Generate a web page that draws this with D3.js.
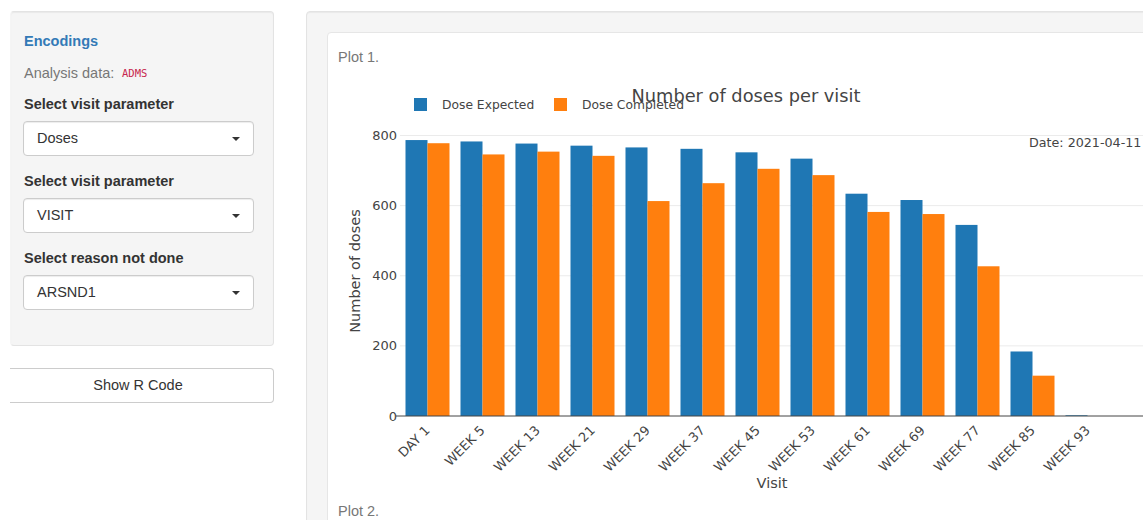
<!DOCTYPE html>
<html>
<head>
<meta charset="utf-8">
<script src="https://cdn.jsdelivr.net/npm/d3@7"></script>
<style>
  body { margin: 0; width: 1143px; height: 520px; overflow: hidden; background: #fff;
         font-family: "Liberation Sans", Arial, sans-serif; font-size: 14.5px; color: #333; position: relative; }
  .abs { position: absolute; }
  .well { background: #f5f5f5; border: 1px solid #e3e3e3; border-radius: 4px;
          box-shadow: inset 0 1px 1px rgba(0,0,0,0.05); box-sizing: border-box; }
  .lbl { font-weight: bold; color: #333; }
  .sel { background: #fff; border: 1px solid #ccc; border-radius: 4px; box-sizing: border-box;
         box-shadow: inset 0 1px 1px rgba(0,0,0,0.075); }
  .sel span { position: absolute; left: 13px; top: 8px; }
  .caret { position: absolute; right: 13px; top: 15px; width: 0; height: 0;
           border-left: 4.5px solid transparent; border-right: 4.5px solid transparent; border-top: 4.5px solid #333; }
  #chart { position: absolute; left: 0; top: 0; }
</style>
</head>
<body>
<!-- sidebar -->
<div class="abs well" style="left:10px; top:11px; width:264px; height:335px; border-left-color:#f5f5f5;"></div>
<div class="abs" style="left:24px; top:33px; color:#337ab7; font-weight:bold;">Encodings</div>
<div class="abs" style="left:24px; top:65px; color:#777;">Analysis data:</div>
<div class="abs" style="left:122px; top:67px; color:#c7254e; font-family:'DejaVu Sans Mono',monospace; font-size:10.5px;">ADMS</div>
<div class="abs lbl" style="left:24px; top:96px;">Select visit parameter</div>
<div class="abs sel" style="left:23px; top:121px; width:231px; height:35px;"><span>Doses</span><div class="caret"></div></div>
<div class="abs lbl" style="left:24px; top:173px;">Select visit parameter</div>
<div class="abs sel" style="left:23px; top:198px; width:231px; height:35px;"><span>VISIT</span><div class="caret"></div></div>
<div class="abs lbl" style="left:24px; top:250px;">Select reason not done</div>
<div class="abs sel" style="left:23px; top:275px; width:231px; height:35px;"><span>ARSND1</span><div class="caret"></div></div>
<div class="abs" style="left:2px; top:368px; width:272px; height:35px; border:1px solid #ccc; border-left-color:#fff; border-radius:4px; box-sizing:border-box; background:#fff; text-align:center; line-height:33px;">Show R Code</div>
<div class="abs" style="left:0; top:360px; width:10px; height:50px; background:#fff;"></div>

<!-- main panel -->
<div class="abs well" style="left:306px; top:11px; width:900px; height:560px;"></div>
<div class="abs" style="left:327px; top:32px; width:900px; height:560px; background:#fff; border:1px solid #e6e6e6; border-radius:4px;"></div>
<div class="abs" style="left:338px; top:49px; color:#777;">Plot 1.</div>
<div class="abs" style="left:338px; top:503px; color:#777;">Plot 2.</div>

<svg id="chart" width="1143" height="520"></svg>

<script>
// chart data
var visits = ["DAY 1", "WEEK 5", "WEEK 13", "WEEK 21", "WEEK 29", "WEEK 37", "WEEK 45",
              "WEEK 53", "WEEK 61", "WEEK 69", "WEEK 77", "WEEK 85", "WEEK 93"];
var doseExpected  = [787, 783, 777, 771, 766, 762, 752, 734, 634, 616, 545, 184, 2];
var doseCompleted = [778, 746, 754, 742, 613, 664, 705, 687, 582, 576, 427, 115, 0];
var seriesNames = ["Dose Expected", "Dose Completed"];
var seriesColors = ["#1f77b4", "#ff7f0e"];
var yTicks = [0, 200, 400, 600, 800];

var plotLeft = 400, plotRight = 1160, plotTop = 135.5, plotBottom = 416;
var chartFont = "'DejaVu Sans', Verdana, sans-serif";

var svg = d3.select("#chart");

// scales
var x = d3.scaleBand()
    .domain(visits)
    .range([plotLeft, 1115])
    .paddingInner(0.2)
    .paddingOuter(0.1);

var xInner = d3.scaleBand()
    .domain(seriesNames)
    .range([0, x.bandwidth()]);

var y = d3.scaleLinear()
    .domain([0, 800])
    .range([plotBottom, plotTop]);

var color = d3.scaleOrdinal()
    .domain(seriesNames)
    .range(seriesColors);

// grid lines
svg.append("g")
    .selectAll("line")
    .data(yTicks.filter(function (d) { return d > 0; }))
    .enter().append("line")
    .attr("x1", plotLeft).attr("x2", plotRight)
    .attr("y1", function (d) { return y(d); })
    .attr("y2", function (d) { return y(d); })
    .attr("stroke", "#ebebeb");

// y tick labels
svg.append("g")
    .selectAll("text")
    .data(yTicks)
    .enter().append("text")
    .attr("x", plotLeft - 3)
    .attr("y", function (d) { return y(d); })
    .attr("dy", "0.35em")
    .attr("text-anchor", "end")
    .style("font-family", chartFont).style("font-size", "13px")
    .attr("fill", "#444")
    .text(function (d) { return d; });

// bars, one group per visit
var rows = visits.map(function (v, i) {
    return { visit: v, values: [doseExpected[i], doseCompleted[i]] };
});

svg.append("g")
    .selectAll("g")
    .data(rows)
    .enter().append("g")
    .attr("transform", function (d) { return "translate(" + x(d.visit) + ",0)"; })
    .selectAll("rect")
    .data(function (d) {
        return seriesNames.map(function (s, j) { return { key: s, value: d.values[j] }; });
    })
    .enter().append("rect")
    .attr("x", function (d) { return xInner(d.key); })
    .attr("width", xInner.bandwidth())
    .attr("y", function (d) { return y(d.value); })
    .attr("height", function (d) { return y(0) - y(d.value); })
    .attr("fill", function (d) { return color(d.key); });

// zero line
svg.append("line")
    .attr("x1", plotLeft - 4).attr("x2", plotRight)
    .attr("y1", y(0)).attr("y2", y(0))
    .attr("stroke", "#444");

// x tick labels, rotated
svg.append("g")
    .selectAll("text")
    .data(visits)
    .enter().append("text")
    .attr("transform", function (d) {
        return "translate(" + (x(d) + x.bandwidth() / 2) + "," + (plotBottom + 12) + ") rotate(-45)";
    })
    .attr("dy", "0.35em")
    .attr("text-anchor", "end")
    .style("font-family", chartFont).style("font-size", "13px")
    .attr("fill", "#444")
    .text(function (d) { return d; });

// axis titles
svg.append("text")
    .attr("x", 772).attr("y", 488)
    .attr("text-anchor", "middle")
    .style("font-family", chartFont).style("font-size", "14.5px")
    .attr("fill", "#444")
    .text("Visit");

svg.append("text")
    .attr("transform", "translate(360,271) rotate(-90)")
    .attr("text-anchor", "middle")
    .style("font-family", chartFont).style("font-size", "14.5px")
    .attr("fill", "#444")
    .text("Number of doses");

// legend (drawn before title, title overlaps it like the original)
var legend = svg.append("g")
    .selectAll("g")
    .data(seriesNames)
    .enter().append("g")
    .attr("transform", function (d, i) { return "translate(" + (414 + i * 140) + ",98)"; });

legend.append("rect")
    .attr("width", 13).attr("height", 13)
    .attr("fill", function (d) { return color(d); });

legend.append("text")
    .attr("x", 28).attr("y", 6.5)
    .attr("dy", "0.35em")
    .style("font-family", chartFont).style("font-size", "12.3px")
    .attr("fill", "#444")
    .text(function (d) { return d; });

// title
svg.append("text")
    .attr("x", 746).attr("y", 102)
    .attr("text-anchor", "middle")
    .style("font-family", chartFont).style("font-size", "17.8px")
    .attr("fill", "#444")
    .text("Number of doses per visit");

// date annotation
svg.append("text")
    .attr("x", 1029).attr("y", 143)
    .attr("dy", "0.35em")
    .style("font-family", chartFont).style("font-size", "12.7px")
    .attr("fill", "#444")
    .text("Date: 2021-04-11");
</script>
</body>
</html>
